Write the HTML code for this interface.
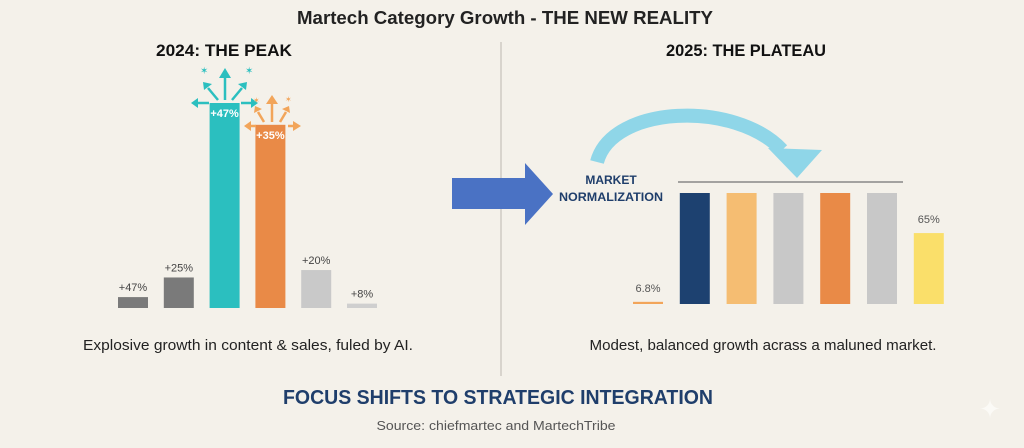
<!DOCTYPE html>
<html><head><meta charset="utf-8"><style>
html,body{margin:0;padding:0;background:#f4f1ea;}
svg{display:block;font-family:"Liberation Sans Narrow","Liberation Sans",sans-serif;}
</style></head><body>
<svg id="c" width="1024" height="448" viewBox="0 0 1024 448" xmlns="http://www.w3.org/2000/svg">
<rect width="1024" height="448" fill="#f4f1ea"/>
<text x="505" y="24" text-anchor="middle" font-size="18" font-weight="bold" fill="#222" textLength="416" lengthAdjust="spacingAndGlyphs">Martech Category Growth - THE NEW REALITY</text>
<line x1="501" y1="42" x2="501" y2="376" stroke="#cfcbc3" stroke-width="1.5"/>
<text x="224" y="56" text-anchor="middle" font-size="17" font-weight="bold" fill="#111" textLength="136" lengthAdjust="spacingAndGlyphs">2024: THE PEAK</text>
<text x="746" y="56" text-anchor="middle" font-size="17" font-weight="bold" fill="#111" textLength="160" lengthAdjust="spacingAndGlyphs">2025: THE PLATEAU</text>
<g id="left"></g>
<g id="right"></g>
<g fill="#2bbfbf" stroke="#2bbfbf" stroke-width="2.5">
<line x1="225" y1="100" x2="225" y2="76"/><polygon points="219,78 231,78 225,68" stroke="none"/>
<line x1="218" y1="100" x2="208" y2="88"/><polygon points="204,90 212,84 203,82" stroke="none"/>
<line x1="232" y1="100" x2="242" y2="88"/><polygon points="238,84 246,90 247,82" stroke="none"/>
<line x1="209" y1="103" x2="197" y2="103"/><polygon points="198,98 198,108 191,103" stroke="none"/>
<line x1="241" y1="103" x2="252" y2="103"/><polygon points="251,98 251,108 258,103" stroke="none"/>
<text x="200" y="74" font-size="10" stroke="none">✶</text><text x="245" y="74" font-size="10" stroke="none">✶</text>
</g>
<g fill="#f2a55a" stroke="#f2a55a" stroke-width="2.5">
<line x1="272" y1="122" x2="272" y2="102"/><polygon points="266,104 278,104 272,95" stroke="none"/>
<line x1="264" y1="122" x2="258" y2="112"/><polygon points="254,113 262,109 255,106" stroke="none"/>
<line x1="280" y1="122" x2="286" y2="112"/><polygon points="282,109 290,113 289,106" stroke="none"/>
<line x1="256" y1="126" x2="250" y2="126"/><polygon points="251,121 251,131 244,126" stroke="none"/>
<line x1="288" y1="126" x2="294" y2="126"/><polygon points="293,121 293,131 301,126" stroke="none"/>
<text x="253" y="103" font-size="8" stroke="none">✶</text><text x="285" y="102" font-size="8" stroke="none">✶</text>
</g>
<polygon points="452,178 525,178 525,163 553,194 525,225 525,209 452,209" fill="#4a72c4"/>
<path d="M597,162 C612,105 735,100 782,150" fill="none" stroke="#8fd6e8" stroke-width="14"/>
<polygon points="768,148 822,150 797,178" fill="#8fd6e8"/>
<text x="611" y="184" text-anchor="middle" font-size="12" font-weight="bold" fill="#1f3e6b">MARKET</text>
<text x="611" y="201" text-anchor="middle" font-size="12" font-weight="bold" fill="#1f3e6b" textLength="104" lengthAdjust="spacingAndGlyphs">NORMALIZATION</text>
<line x1="678" y1="182" x2="903" y2="182" stroke="#888" stroke-width="1.5"/>
<text x="248" y="350" text-anchor="middle" font-size="15" fill="#222" textLength="330" lengthAdjust="spacingAndGlyphs">Explosive growth in content &amp; sales, fuled by AI.</text>
<text x="763" y="350" text-anchor="middle" font-size="15" fill="#222" textLength="347" lengthAdjust="spacingAndGlyphs">Modest, balanced growth acrass a maluned market.</text>
<text x="498" y="404" text-anchor="middle" font-size="20" font-weight="bold" fill="#1f3e6b" textLength="430" lengthAdjust="spacingAndGlyphs">FOCUS SHIFTS TO STRATEGIC INTEGRATION</text>
<text x="496" y="430" text-anchor="middle" font-size="13" fill="#555" textLength="239" lengthAdjust="spacingAndGlyphs">Source: chiefmartec and MartechTribe</text>
<text x="990" y="418" text-anchor="middle" font-size="26" fill="#fbfaf6">✦</text>
</svg>
<script>
// Left panel (2024)
const leftLabels = ["+47%","+25%","+47%","+35%","+20%","+8%"];
const leftValues = [2.5, 7, 47, 42, 8.7, 1];
const leftColors = ["#7a7a7a","#7a7a7a","#2bbfbf","#e98a47","#c9c9c9","#cfcfcf"];
// Right panel (2025)
const rightLabels = ["6.8%","","","","","","65%"];
const rightValues = [0.7, 36, 36, 36, 36, 36, 23];
const rightColors = ["#f2a55a","#1d4170","#f5bd72","#c8c8c8","#e98a47","#c8c8c8","#fadf6a"];

const NS="http://www.w3.org/2000/svg";
function yL(v){return 308 - v*205/47;}
function xL(i){return 118 + i*45.8;}
function yR(v){return 304 - v*111/36;}
function xR(i){return 633 + i*46.8;}
function mk(tag,attrs){const e=document.createElementNS(NS,tag);for(const k in attrs)e.setAttribute(k,attrs[k]);return e;}
const gl=document.getElementById('left');
leftValues.forEach((v,i)=>{
  const r=mk('rect',{x:xL(i),y:yL(v),width:30,height:308-yL(v),fill:leftColors[i]});
  
  
  gl.appendChild(r);
  const inside = v>30;
  const t=mk('text',{x:xL(i)+15,y:inside?yL(v)+14:yL(v)-6,'text-anchor':'middle','font-size':'11',fill:inside?'#fff':'#444','font-weight':inside?'bold':'normal'});
  t.textContent=leftLabels[i];
  
  
  gl.appendChild(t);
});
const gr=document.getElementById('right');
rightValues.forEach((v,i)=>{
  const r=mk('rect',{x:xR(i),y:yR(v),width:30,height:304-yR(v),fill:rightColors[i]});
  
  
  gr.appendChild(r);
  if(rightLabels[i]){
    const t=mk('text',{x:xR(i)+15,y:yR(v)-10,'text-anchor':'middle','font-size':'11',fill:'#555'});
    t.textContent=rightLabels[i];
    
    
    gr.appendChild(t);
  }
});
</script>
</body></html>
